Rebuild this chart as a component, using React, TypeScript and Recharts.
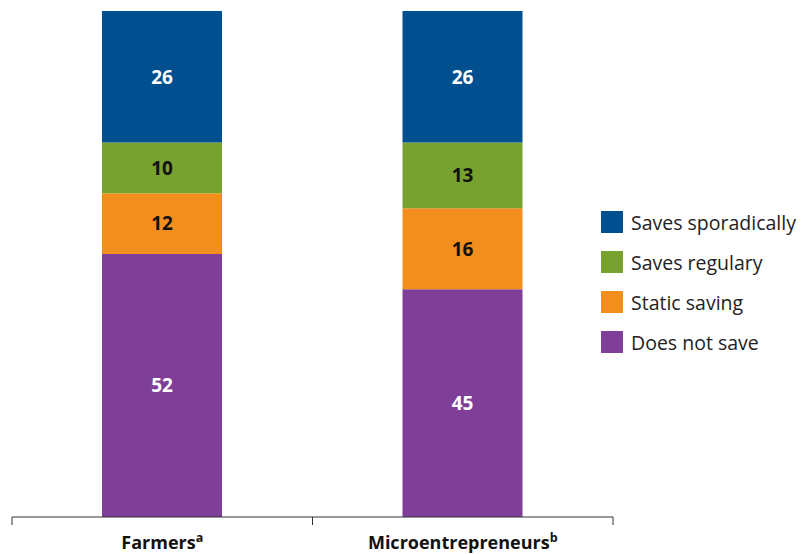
import React from 'react'
import { BarChart, Bar, XAxis, YAxis, LabelList } from 'recharts'

const groups = ['Farmers', 'Microentrepreneurs']
const marks = ['a', 'b']
const doesNotSave = [52, 45]
const staticSaving = [12, 16]
const savesRegulary = [10, 13]
const savesSporadically = [26, 26]

const series = [
  { key: 'none', name: 'Does not save', color: '#7f3f98', text: '#ffffff' },
  { key: 'static', name: 'Static saving', color: '#f28e1e', text: '#111111' },
  { key: 'regular', name: 'Saves regulary', color: '#77a22f', text: '#111111' },
  { key: 'sporadic', name: 'Saves sporadically', color: '#00508f', text: '#ffffff' },
]

const data = groups.map((g, i) => ({
  name: g,
  mark: marks[i],
  none: doesNotSave[i],
  static: staticSaving[i],
  regular: savesRegulary[i],
  sporadic: savesSporadically[i],
}))

const font = '"Open Sans", "Noto Sans", sans-serif'

function GroupTick(props: any) {
  const { x, y, payload, index, width, visibleTicksCount } = props
  const half = width / visibleTicksCount / 2
  return (
    <g>
      <line x1={x - half} y1={y - 8} x2={x - half} y2={y} stroke="#333" />
      {index === visibleTicksCount - 1 && (
        <line x1={x + half} y1={y - 8} x2={x + half} y2={y} stroke="#333" />
      )}
      <text x={x} y={y + 24} textAnchor="middle" fontFamily={font} fontWeight={700} fontSize={18} fill="#111">
        {payload.value}
        <tspan dy={-7} fontSize={12.5}>{data[index].mark}</tspan>
      </text>
    </g>
  )
}

function LegendBox() {
  return (
    <div style={{ position: 'absolute', left: 601, top: 202, fontFamily: font, fontSize: 19.5, color: '#222' }}>
      {[...series].reverse().map((s) => (
        <div key={s.key} style={{ display: 'flex', alignItems: 'center', height: 40 }}>
          <div style={{ width: 22, height: 22, background: s.color, marginRight: 8 }} />
          <span style={{ whiteSpace: 'nowrap' }}>{s.name}</span>
        </div>
      ))}
    </div>
  )
}

export default function App() {
  return (
    <div style={{ position: 'absolute', left: 0, top: 0, width: 801, height: 554, background: '#fff' }}>
      <BarChart width={801} height={554} data={data} margin={{ top: 11, right: 188, left: 12, bottom: 0 }} barCategoryGap={0}>
        <YAxis hide domain={[0, 100]} />
        <XAxis
          dataKey="name"
          height={37}
          axisLine={{ stroke: '#333' }}
          tickLine={false}
          tick={<GroupTick />}
          interval={0}
        />
        {series.map((s) => (
          <Bar key={s.key} dataKey={s.key} name={s.name} stackId="a" fill={s.color} barSize={120} isAnimationActive={false}>
            <LabelList dataKey={s.key} position="center" fill={s.text} fontFamily={font} fontWeight={700} fontSize={19} />
          </Bar>
        ))}
      </BarChart>
      <LegendBox />
    </div>
  )
}
